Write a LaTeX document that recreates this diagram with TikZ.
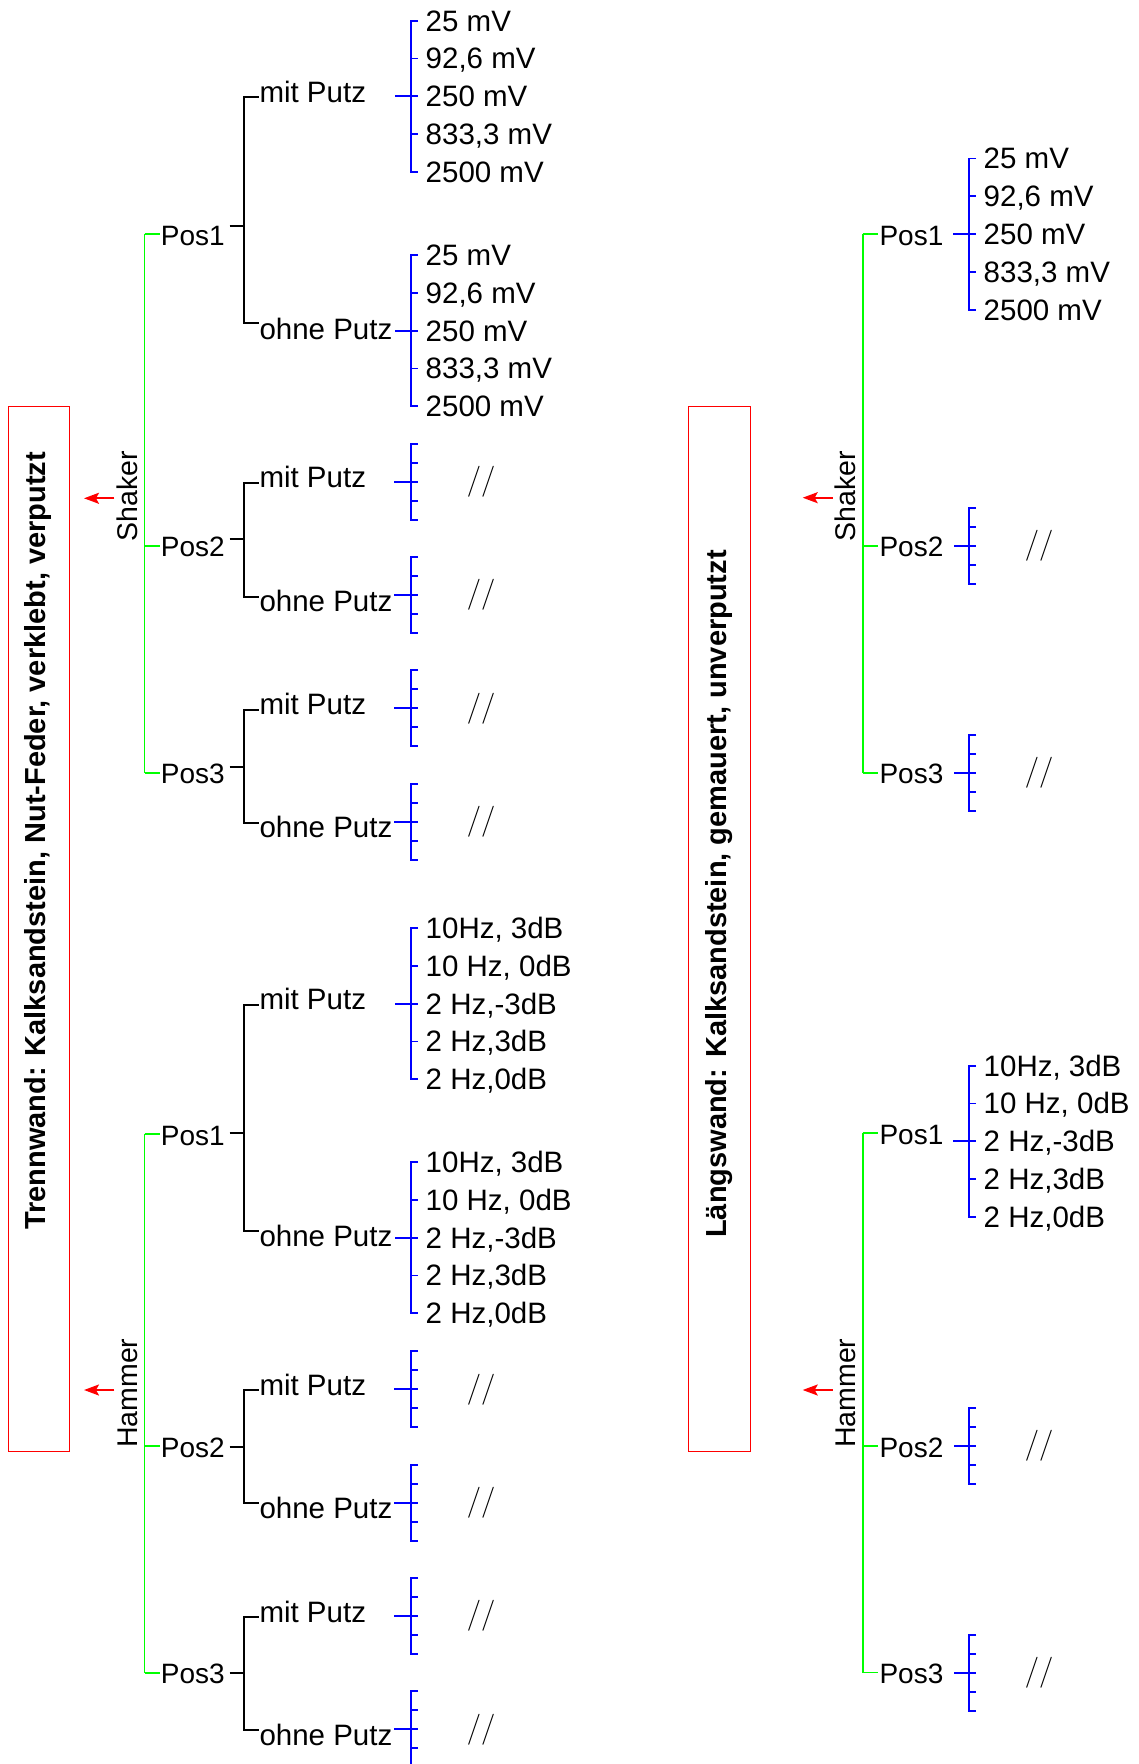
\documentclass[tikz,border=0pt]{standalone}
\usepackage{fontspec}
\newfontfamily\arialf{Liberation Sans}
\usetikzlibrary{arrows.meta}
\newcommand\LGroup[8]{%
  \node[poslbl] (#1) at (160.7,#2+11) {#8};
  \node[lbl] (#1m) at (259.3,#6+8) {mit Putz};
  \node[lbl] (#1o) at (259.3,#7+8) {ohne Putz};
  \draw[grn] (144.5,#2) -- (159.5,#2);
  \draw[blk] (229.6,#3) -- (244,#3);
  \draw[blk] (258.5,#4) -- (244,#4) -- (244,#5) -- (258.5,#5);
}
\newcommand\RGroup[3]{%
  \node[poslbl] (#1) at (879.3,#2+11) {#3};
  \draw[grn] (862.7,#2) -- (877.7,#2);
}
\newcommand\EmptyBr[4]{%
  \draw[blu] (#1+7,#2-38) -- (#1,#2-38) -- (#1,#2+38) -- (#1+7,#2+38);
  \draw[blu] (#1,#2-19) -- (#1+7,#2-19) (#1,#2+19) -- (#1+7,#2+19);
  \draw[blu] (#1-#4,#2) -- (#1+7,#2);
  \node[slsh] (#3) at (#1+70,#2) {//};
}
\newcommand\FullBr[8]{%
  \draw[blu] (#1+7,#2-75.6) -- (#1,#2-75.6) -- (#1,#2+75.6) -- (#1+7,#2+75.6);
  \draw[blu] (#1,#2-37.8) -- (#1+7,#2-37.8) (#1,#2+37.8) -- (#1+7,#2+37.8);
  \draw[blu] (#1-16,#2) -- (#1+7,#2);
  \node[lbl] (#3a) at (#1+14.5,#2-65.2) {#4};
  \node[lbl] (#3b) at (#1+14.5,#2-27.4) {#5};
  \node[lbl] (#3c) at (#1+14.5,#2+10.4) {#6};
  \node[lbl] (#3d) at (#1+14.5,#2+48.2) {#7};
  \node[lbl] (#3e) at (#1+14.5,#2+86) {#8};
}
\begin{document}
\begin{tikzpicture}[x=1pt,y=-1pt,
  lbl/.style={anchor=base west,inner sep=0pt,font=\arialf\fontsize{29.5}{35}\selectfont},
  poslbl/.style={anchor=base west,inner sep=0pt,font=\arialf\fontsize{28}{34}\selectfont},
  vtxt/.style={anchor=base west,inner sep=0pt,rotate=90,font=\arialf\fontsize{28.5}{34}\selectfont},
  ttl/.style={anchor=base west,inner sep=0pt,rotate=90,font=\arialf\bfseries\fontsize{29}{35}\selectfont},
  grn/.style={draw={rgb,255:red,0;green,255;blue,0},line width=1.8pt},
  blk/.style={draw=black,line width=1.8pt},
  blu/.style={draw=blue,line width=1.8pt},
  rbox/.style={draw=red,line width=1pt},
  rarr/.style={draw=red,line width=2pt,-{Stealth[length=15pt,width=11pt,inset=3pt]}},
  slsh/.style={anchor=center,inner sep=0pt,font=\fontsize{31}{37}\selectfont}
]
\useasboundingbox (0,0) rectangle (1139,1764);
\fill[white] (0,0) rectangle (1139,1764);
\clip (0,0) rectangle (1139,1764);

% ---------------- LEFT ----------------
\draw[rbox] (8,406.7) rectangle (69.5,1451);
\node[ttl] (tl) at (45,1230) {Trennwand: Kalksandstein, Nut-Feder, verklebt, verputzt};
\node[vtxt] (shL) at (137.3,541.7) {Shaker};
\node[vtxt] (hmL) at (137.3,1448) {Hammer};
\coordinate (aSL) at (114.3,498.3);
\coordinate (aSLt) at (84,498.3);
\coordinate (aHL) at (114.3,1390);
\coordinate (aHLt) at (84,1390);
\draw[rarr] (aSL) -- (aSLt);
\draw[rarr] (aHL) -- (aHLt);
\draw[grn] (144.5,234) -- (144.5,772.7);
\draw[grn] (144.5,1134.3) -- (144.5,1672.7);

% Shaker
\LGroup{ls1}{234}{225.7}{97.3}{323.3}{94.3}{331.7}{Pos1}
\LGroup{ls2}{545.7}{539.3}{483.3}{596.7}{479.7}{603}{Pos2}
\LGroup{ls3}{772.7}{766.7}{710}{823.3}{706.3}{829.7}{Pos3}
\FullBr{411}{96.3}{lv1}{25 mV}{92,6 mV}{250 mV}{833,3 mV}{2500 mV}
\FullBr{411}{330.7}{lv2}{25 mV}{92,6 mV}{250 mV}{833,3 mV}{2500 mV}
\EmptyBr{411}{481.7}{lx1}{17}
\EmptyBr{411}{595}{lx2}{17}
\EmptyBr{411}{708.3}{lx3}{17}
\EmptyBr{411}{821.7}{lx4}{17}

% Hammer
\LGroup{lh1}{1134.3}{1132.7}{1005}{1231}{1001.7}{1238.7}{Pos1}
\LGroup{lh2}{1446}{1447}{1390}{1503.3}{1387.3}{1510.7}{Pos2}
\LGroup{lh3}{1672.7}{1673.3}{1616.7}{1730}{1614}{1737.3}{Pos3}
\FullBr{411}{1003.7}{lv3}{10Hz, 3dB}{10 Hz, 0dB}{2 Hz,-3dB}{2 Hz,3dB}{2 Hz,0dB}
\FullBr{411}{1237.7}{lv4}{10Hz, 3dB}{10 Hz, 0dB}{2 Hz,-3dB}{2 Hz,3dB}{2 Hz,0dB}
\EmptyBr{411}{1389.3}{lx5}{17}
\EmptyBr{411}{1502.7}{lx6}{17}
\EmptyBr{411}{1616}{lx7}{17}
\EmptyBr{411}{1729.3}{lx8}{17}

% ---------------- RIGHT ----------------
\draw[rbox] (688.3,406.7) rectangle (750.3,1451);
\node[ttl] (tr) at (726,1238) {Längswand: Kalksandstein, gemauert, unverputzt};
\node[vtxt] (shR) at (855,541.7) {Shaker};
\node[vtxt] (hmR) at (855,1448) {Hammer};
\coordinate (aSR) at (832.7,497.7);
\coordinate (aSRt) at (802.7,497.7);
\coordinate (aHR) at (832.7,1390);
\coordinate (aHRt) at (802.7,1390);
\draw[rarr] (aSR) -- (aSRt);
\draw[rarr] (aHR) -- (aHRt);
\draw[grn] (862.7,234) -- (862.7,772.7);
\draw[grn] (862.7,1133) -- (862.7,1672.5);

\RGroup{rs1}{234}{Pos1}
\RGroup{rs2}{545.7}{Pos2}
\RGroup{rs3}{772.7}{Pos3}
\FullBr{969}{234}{rv1}{25 mV}{92,6 mV}{250 mV}{833,3 mV}{2500 mV}
\EmptyBr{969}{545.7}{rx1}{15}
\EmptyBr{969}{772.7}{rx2}{15}

\RGroup{rh1}{1133}{Pos1}
\RGroup{rh2}{1446}{Pos2}
\RGroup{rh3}{1672.5}{Pos3}
\FullBr{969}{1141.3}{rv2}{10Hz, 3dB}{10 Hz, 0dB}{2 Hz,-3dB}{2 Hz,3dB}{2 Hz,0dB}
\EmptyBr{969}{1446}{rx3}{15}
\EmptyBr{969}{1673}{rx4}{15}
\end{tikzpicture}
\end{document}
